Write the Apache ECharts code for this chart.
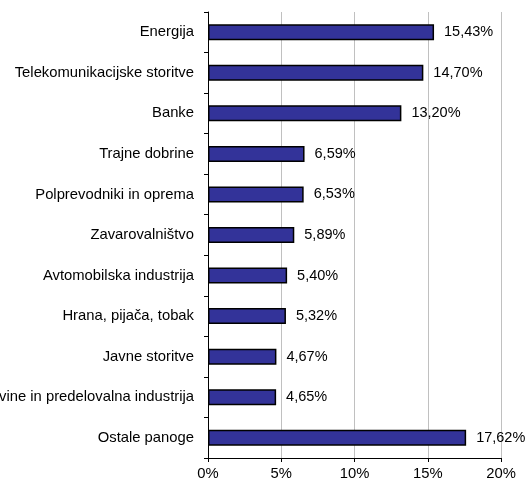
<!DOCTYPE html>
<html>
<head>
<meta charset="utf-8">
<script src="https://cdn.jsdelivr.net/npm/echarts@6/dist/echarts.min.js"></script>
<style>html,body{margin:0;padding:0;background:#fff;}#c{width:529px;height:481px;}</style>
</head>
<body>
<div id="c"></div>
<script>
const categories = [
  "Energija",
  "Telekomunikacijske storitve",
  "Banke",
  "Trajne dobrine",
  "Polprevodniki in oprema",
  "Zavarovalništvo",
  "Avtomobilska industrija",
  "Hrana, pijača, tobak",
  "Javne storitve",
  "Surovine in predelovalna industrija",
  "Ostale panoge"
];
const values = [15.43, 14.70, 13.20, 6.59, 6.53, 5.89, 5.40, 5.32, 4.67, 4.65, 17.62];
const xTicks = [0, 5, 10, 15, 20];

const chart = echarts.init(document.getElementById('c'));
chart.setOption({
  animation: false,
  textStyle: { fontFamily: 'Liberation Sans, Arial, sans-serif' },
  grid: { left: 208, right: 28, top: 12, bottom: 23, containLabel: false, outerBoundsMode: 'none' },
  xAxis: {
    type: 'value',
    min: xTicks[0],
    max: xTicks[xTicks.length - 1],
    interval: 5,
    axisLine: { show: true, lineStyle: { color: '#000', width: 1 } },
    axisTick: { show: true, length: 4, lineStyle: { color: '#000' } },
    axisLabel: { color: '#000', fontSize: 14.8, margin: 8, formatter: v => v + '%' },
    splitLine: { show: true, lineStyle: { color: '#c0c0c0', width: 1 } }
  },
  yAxis: {
    type: 'category',
    inverse: true,
    data: categories,
    axisLine: { show: true, lineStyle: { color: '#000', width: 1 } },
    axisTick: { show: true, length: 4, inside: false, alignWithLabel: false, lineStyle: { color: '#000' } },
    axisLabel: { color: '#000', fontSize: 14.8, margin: 14 },
    splitLine: { show: false }
  },
  series: [{
    type: 'bar',
    data: values,
    barWidth: 16,
    itemStyle: { color: '#333399', borderColor: '#000', borderWidth: 1.5 },
    label: {
      show: true,
      position: 'right',
      distance: 10,
      color: '#000',
      fontSize: 14.5,
      formatter: p => p.value.toFixed(2).replace('.', ',') + '%'
    }
  }]
});
</script>
</body>
</html>
